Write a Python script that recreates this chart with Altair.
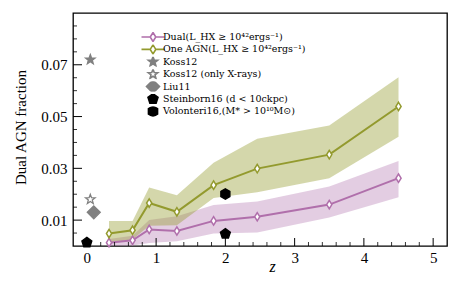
import math
import altair as alt
import pandas as pd

# ---------------- data ----------------
z_sim = [0.32, 0.66, 0.90, 1.30, 1.83, 2.46, 3.50, 4.50]
dual_frac = [0.0013, 0.0022, 0.0064, 0.0058, 0.0097, 0.0113, 0.0160, 0.0262]
dual_lo = [0.0000, 0.0002, 0.0012, 0.0018, 0.0048, 0.0052, 0.0110, 0.0188]
dual_hi = [0.0027, 0.0040, 0.0100, 0.0115, 0.0158, 0.0172, 0.0230, 0.0328]
one_frac = [0.0048, 0.0061, 0.0166, 0.0132, 0.0235, 0.0299, 0.0353, 0.0539]
one_lo = [0.0012, 0.0025, 0.0078, 0.0080, 0.0185, 0.0208, 0.0262, 0.0422]
one_hi = [0.0097, 0.0097, 0.0226, 0.0196, 0.0322, 0.0414, 0.0465, 0.0652]

L_DUAL = "Dual(L_HX ≥ 10⁴²ergs⁻¹)"
L_ONE = "One AGN(L_HX ≥ 10⁴²ergs⁻¹)"
L_KOSS = "Koss12"
L_KOSSX = "Koss12 (only X-rays)"
L_LIU = "Liu11"
L_STEIN = "Steinborn16 (d < 10ckpc)"
L_VOLO = "Volonteri16,(M* > 10¹⁰M⊙)"

obs_series = [L_KOSS, L_KOSSX, L_LIU, L_STEIN, L_STEIN, L_VOLO]
obs_z = [0.05, 0.05, 0.10, 0.0, 2.0, 2.0]
obs_frac = [0.072, 0.018, 0.013, 0.0013, 0.0047, 0.0201]

legend_order = [L_DUAL, L_ONE, L_KOSS, L_KOSSX, L_LIU, L_STEIN, L_VOLO]

x_major = [0, 1, 2, 3, 4, 5]
y_labels = [0.01, 0.03, 0.05, 0.07]

# ---------------- styling helpers ----------------
PURPLE = "#b06fab"
OLIVE = "#939a2e"
GRAY = "#808080"
FONT = "Liberation Serif"
LFONT = "DejaVu Serif"

def poly(n, r, rot=-90.0):
    pts = []
    for k in range(n):
        a = math.radians(rot + 360.0 * k / n)
        pts.append(f"{r*math.cos(a):.3f},{r*math.sin(a):.3f}")
    return "M" + "L".join(pts) + "Z"

def star(ro, ri):
    pts = []
    for k in range(10):
        r = ro if k % 2 == 0 else ri
        a = math.radians(-90 + 36 * k)
        pts.append(f"{r*math.cos(a):.3f},{r*math.sin(a):.3f}")
    return "M" + "L".join(pts) + "Z"

DIAMOND_TALL = "M0,-1L0.62,0L0,1L-0.62,0Z"
LEG_LINE = "M-2.3,0L-0.56,0M0.56,0L2.3,0M0,-0.9L0.56,0L0,0.9L-0.56,0Z"
STAR = star(1.0, 0.42)
LIU_D = "M0,-1.3L1.3,0L0,1.3L-1.3,0Z"
PENT = poly(5, 1.05)
HEX = poly(6, 1.05)

shape_range = [LEG_LINE, LEG_LINE, STAR, STAR, LIU_D, PENT, HEX]
fill_range = ["white", "white", GRAY, "white", GRAY, "black", "black"]
stroke_range = [PURPLE, OLIVE, GRAY, GRAY, GRAY, "black", "black"]

# ---------------- tables ----------------
df_dual = pd.DataFrame({"z": z_sim, "frac": dual_frac, "lo": dual_lo, "hi": dual_hi})
df_one = pd.DataFrame({"z": z_sim, "frac": one_frac, "lo": one_lo, "hi": one_hi})
df_obs = pd.DataFrame({"z": obs_z, "frac": obs_frac, "series": obs_series})

x_minor = [round(0.2 * k, 1) for k in range(1, 26) if k % 5 != 0]
y_all = [round(0.005 * k, 3) for k in range(1, 18)]
y_major = y_labels
y_minor = [v for v in y_all if v not in y_major]

W, H = 374, 233

xs = alt.Scale(domain=[-0.2, 5.2], nice=False, zero=False)
ys = alt.Scale(domain=[0, 0.09], nice=False, zero=False)

xaxis = alt.Axis(values=x_major, format="d", ticks=False, domain=False, grid=False,
                 labelFont=FONT, labelFontSize=15, labelPadding=4, labelColor="black",
                 title="z", titleFont=FONT, titleFontSize=16, titleFontStyle="italic",
                 titleFontWeight="normal", titleX=199, titleY=20, titleBaseline="middle",
                 titleColor="black")
yaxis = alt.Axis(values=y_labels, format=".2f", ticks=False, domain=False, grid=False,
                 labelFont=FONT, labelFontSize=15, labelPadding=6, labelColor="black",
                 title="Dual AGN fraction", titleFont=FONT, titleFontSize=15,
                 titleFontWeight="normal", titleX=-53, titleY=114, titleBaseline="middle",
                 titleAlign="center", titleColor="black")

X = alt.X("z:Q", scale=xs, axis=xaxis)
Y = alt.Y("frac:Q", scale=ys, axis=yaxis)

band_dual = alt.Chart(df_dual).mark_area(color=PURPLE, opacity=0.35).encode(
    x=alt.X("z:Q", scale=xs, axis=xaxis), y=alt.Y("lo:Q", scale=ys, axis=yaxis), y2="hi:Q")
band_one = alt.Chart(df_one).mark_area(color=OLIVE, opacity=0.4).encode(
    x=alt.X("z:Q", scale=xs, axis=xaxis), y=alt.Y("lo:Q", scale=ys, axis=yaxis), y2="hi:Q")

line_dual = alt.Chart(df_dual).mark_line(color=PURPLE, strokeWidth=2).encode(x=X, y=Y)
line_one = alt.Chart(df_one).mark_line(color=OLIVE, strokeWidth=2).encode(x=X, y=Y)

pts_dual = alt.Chart(df_dual).mark_point(shape=DIAMOND_TALL, filled=True, fill="white",
                                         stroke=PURPLE, strokeWidth=1.5, size=70,
                                         opacity=1).encode(x=X, y=Y)
pts_one = alt.Chart(df_one).mark_point(shape=DIAMOND_TALL, filled=True, fill="white",
                                       stroke=OLIVE, strokeWidth=1.5, size=70,
                                       opacity=1).encode(x=X, y=Y)

leg = alt.Legend(orient="none", legendX=62, legendY=19, title=None, symbolSize=100,
                 symbolStrokeWidth=1.6, labelFont=LFONT, labelFontSize=9.5,
                 symbolOffset=12, labelOffset=4, rowPadding=2.4, padding=0,
                 labelLimit=400, clipHeight=10, labelColor="black")

obs = alt.Chart(df_obs).mark_point(filled=True, size=100, strokeWidth=1.3, opacity=1).encode(
    x=X, y=Y,
    shape=alt.Shape("series:N", scale=alt.Scale(domain=legend_order, range=shape_range), legend=leg),
    fill=alt.Fill("series:N", scale=alt.Scale(domain=legend_order, range=fill_range), legend=leg),
    stroke=alt.Stroke("series:N", scale=alt.Scale(domain=legend_order, range=stroke_range), legend=leg),
)

# inward ticks
tx_major = alt.Chart(pd.DataFrame({"t": x_major})).mark_rule(color="black", strokeWidth=1).encode(
    x=alt.X("t:Q", scale=xs, axis=xaxis), y=alt.value(H), y2=alt.value(H - 8))
tx_minor = alt.Chart(pd.DataFrame({"t": x_minor})).mark_rule(color="black", strokeWidth=0.8).encode(
    x=alt.X("t:Q", scale=xs, axis=xaxis), y=alt.value(H), y2=alt.value(H - 4))
ty_major = alt.Chart(pd.DataFrame({"t": y_major})).mark_rule(color="black", strokeWidth=1).encode(
    y=alt.Y("t:Q", scale=ys, axis=yaxis), x=alt.value(0), x2=alt.value(9))
ty_minor = alt.Chart(pd.DataFrame({"t": y_minor})).mark_rule(color="black", strokeWidth=0.8).encode(
    y=alt.Y("t:Q", scale=ys, axis=yaxis), x=alt.value(0), x2=alt.value(4))

chart = alt.layer(
    band_dual, band_one, line_dual, line_one, pts_dual, pts_one, obs,
    tx_major, tx_minor, ty_major, ty_minor,
).properties(
    width=W, height=H,
    autosize=alt.AutoSizeParams(type="none"),
    padding={"left": 73, "top": 13, "right": 10, "bottom": 39},
    background="white",
).configure_view(stroke="black", strokeWidth=1.3)

chart.save("out.html", embed_options={"renderer": "svg", "actions": False})
